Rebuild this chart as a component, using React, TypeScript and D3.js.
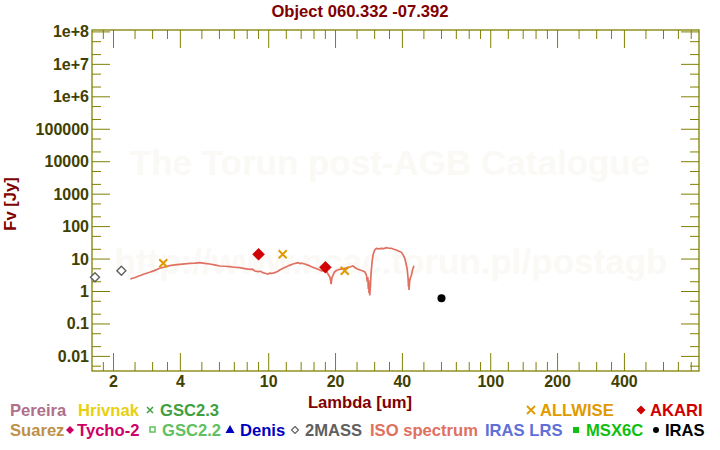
import React from "react";
import * as d3 from "d3";

const TITLE = "Object 060.332 -07.392";

// ISO spectrum (wavelength um, flux Jy)
const isoWave = [2.38, 2.5, 2.62, 2.75, 2.91, 3.05, 3.23, 3.4, 3.58, 3.78, 3.97, 4.2, 4.41, 4.65, 4.89, 5.15, 5.42, 5.7, 6.02, 6.3, 6.67, 7.0, 7.4, 7.8, 8.21, 8.45, 8.65, 9.0, 9.2, 9.42, 9.7, 9.93, 10.1, 10.3, 10.64, 11.0, 11.21, 11.6, 12.02, 12.4, 12.87, 13.2, 13.55, 13.8, 14.0, 14.53, 15.0, 15.3, 15.57, 16.1, 16.68, 17.0, 17.3, 17.87, 18.3, 18.6, 18.83, 19.0, 19.1, 19.25, 19.4, 19.83, 20.3, 20.89, 21.4, 21.99, 23.0, 23.98, 24.6, 25.24, 26.0, 26.6, 27.1, 27.55, 27.8, 27.95, 28.1, 28.2, 28.3, 28.4, 28.51, 28.7, 28.9, 29.2, 29.5, 30.02, 30.55, 31.3, 32.2, 33.0, 33.9, 34.8, 35.71, 36.6, 37.6, 38.6, 39.6, 40.3, 41.0, 41.5, 41.98, 42.3, 42.5, 42.6, 42.7, 42.86, 43.1, 43.4, 43.95, 44.5, 45.1];
const isoFlux = [2.43, 2.7, 3.07, 3.45, 3.91, 4.4, 5.19, 5.7, 6.24, 6.6, 6.89, 7.15, 7.4, 7.5, 7.72, 7.4, 7.04, 6.6, 6.11, 6.0, 5.81, 5.6, 5.41, 5.1, 4.83, 4.9, 4.28, 4.1, 4.2, 3.8, 3.6, 3.46, 3.7, 3.6, 3.8, 4.2, 4.6, 5.2, 5.81, 6.4, 7.04, 7.4, 7.72, 7.3, 7.5, 7.04, 6.5, 6.2, 5.81, 5.3, 4.83, 4.6, 4.3, 4.5, 4.0, 3.2, 2.86, 2.2, 1.7, 2.6, 3.0, 4.08, 4.5, 4.83, 5.0, 5.19, 5.6, 6.11, 5.3, 4.83, 4.5, 4.28, 4.0, 3.23, 2.0, 2.8, 1.2, 2.2, 0.9, 1.8, 0.75, 1.4, 3.5, 8.0, 13.3, 19.0, 21.4, 20.5, 21.4, 21.0, 22.4, 21.5, 21.4, 20.0, 19.0, 17.5, 16.1, 13.5, 10.5, 7.5, 5.19, 3.2, 2.2, 1.4, 2.4, 1.11, 2.0, 2.55, 3.23, 4.8, 6.24];

// Photometry
const twomassWave = [1.65, 2.17];
const twomassFlux = [2.74, 4.38];
const allwiseWave = [3.35, 11.56, 22.0];
const allwiseFlux = [7.4, 14.0, 4.38];
const akariWave = [9.0, 18.0];
const akariFlux = [14.0, 5.57];
const irasWave = [60];
const irasFlux = [0.62];

// Axis ticks
const xMajor = [2, 4, 10, 20, 40, 100, 200, 400];
const xMinor = [1.8, 2.5, 3, 3.5, 5, 6, 7, 8, 9, 12, 14, 16, 18, 25, 30, 35, 50, 60, 70, 80, 90, 120, 140, 160, 180, 250, 300, 350, 500, 600, 700, 800];
const yMajor = [1e8, 1e7, 1e6, 1e5, 1e4, 1e3, 100, 10, 1, 0.1, 0.01];
const yLabels = ["1e+8", "1e+7", "1e+6", "100000", "10000", "1000", "100", "10", "1", "0.1", "0.01"];
const yMinor = [5e7, 2e7, 5e6, 2e6, 5e5, 2e5, 5e4, 2e4, 5e3, 2e3, 500, 200, 50, 20, 5, 2, 0.5, 0.2, 0.05, 0.02, 0.005];

const FONT = "'Liberation Sans', Arial, Helvetica, sans-serif";
const AXIS = "#808000";
const TICKTXT = "#404000";
const DARKRED = "#800000";
const WM = "#fbf9f5";

export default function App() {
  const L = 92, R = 699, T = 30, B = 371;
  const x = d3.scaleLog().domain([1.6, 867]).range([L, R]);
  const y = d3.scaleLog().domain([0.00355, 1.145e8]).range([B, T]);

  const iso = isoWave.map((w, i) => [w, isoFlux[i]] as [number, number]);
  const line = d3.line<[number, number]>().x(d => x(d[0])).y(d => y(d[1]));

  const diamond = (cx: number, cy: number, r: number) =>
    `M${cx},${cy - r}L${cx + r},${cy}L${cx},${cy + r}L${cx - r},${cy}Z`;
  const cross = (cx: number, cy: number, r: number) =>
    `M${cx - r},${cy - r}L${cx + r},${cy + r}M${cx - r},${cy + r}L${cx + r},${cy - r}`;

  const LF = 16.6;
  const legendText = (t: string, lx: number, ly: number, c: string) => (
    <text x={lx} y={ly} fill={c} fontSize={LF} fontWeight="bold" fontFamily={FONT}>{t}</text>
  );

  const r1 = 416, r2 = 436;

  return (
    <svg width={720} height={450} style={{ position: "absolute", left: 0, top: 0, background: "#fff" }}>
      <rect x={0} y={0} width={720} height={450} fill="#fff" />
      {/* watermark */}
      <text x={390} y={175} textAnchor="middle" fill={WM} fontSize={35} fontWeight="bold" fontFamily={FONT}>The Torun post-AGB Catalogue</text>
      <text x={391} y={274} textAnchor="middle" fill={WM} fontSize={35} fontWeight="bold" fontFamily={FONT}>http://www.ncac.torun.pl/postagb</text>

      {/* title */}
      <text x={360} y={17} textAnchor="middle" fill={DARKRED} fontSize={16.6} fontWeight="bold" fontFamily={FONT}>{TITLE}</text>

      {/* frame */}
      <rect x={L} y={T} width={R - L} height={B - T} fill="none" stroke={AXIS} strokeWidth={1.3} />

      {/* x ticks */}
      {xMajor.map(v => (
        <g key={"xM" + v}>
          <line x1={x(v)} x2={x(v)} y1={B} y2={B - 18} stroke={AXIS} strokeWidth={1} />
          <line x1={x(v)} x2={x(v)} y1={T} y2={T + 18} stroke={AXIS} strokeWidth={1} />
          <text x={x(v)} y={387} textAnchor="middle" fill={TICKTXT} fontSize={16} fontWeight="bold" fontFamily={FONT}>{v}</text>
        </g>
      ))}
      {xMinor.map(v => (
        <g key={"xm" + v}>
          <line x1={x(v)} x2={x(v)} y1={B} y2={B - 9} stroke={AXIS} strokeWidth={1} />
          <line x1={x(v)} x2={x(v)} y1={T} y2={T + 9} stroke={AXIS} strokeWidth={1} />
        </g>
      ))}
      {/* y ticks */}
      {yMajor.map((v, i) => (
        <g key={"yM" + v}>
          <line x1={L} x2={L + 18} y1={y(v)} y2={y(v)} stroke={AXIS} strokeWidth={1} />
          <line x1={R} x2={R - 18} y1={y(v)} y2={y(v)} stroke={AXIS} strokeWidth={1} />
          <text x={89} y={y(v) + 5.5} textAnchor="end" fill={TICKTXT} fontSize={16} fontWeight="bold" fontFamily={FONT}>{yLabels[i]}</text>
        </g>
      ))}
      {yMinor.map(v => (
        <g key={"ym" + v}>
          <line x1={L} x2={L + 9} y1={y(v)} y2={y(v)} stroke={AXIS} strokeWidth={1} />
          <line x1={R} x2={R - 9} y1={y(v)} y2={y(v)} stroke={AXIS} strokeWidth={1} />
        </g>
      ))}

      {/* axis titles */}
      <text x={360} y={408} textAnchor="middle" fill={DARKRED} fontSize={16.6} fontWeight="bold" fontFamily={FONT}>Lambda [um]</text>
      <text transform={`translate(16,204) rotate(-90)`} textAnchor="middle" fill={DARKRED} fontSize={16.6} fontWeight="bold" fontFamily={FONT}>Fv [Jy]</text>

      {/* ISO spectrum */}
      <path d={line(iso) || ""} fill="none" stroke="#e07060" strokeWidth={1.7} />

      {/* 2MASS */}
      {twomassWave.map((w, i) => (
        <path key={"tm" + i} d={diamond(x(w), y(twomassFlux[i]), 4.5)} fill="#fff" stroke="#606060" strokeWidth={1.4} />
      ))}
      {/* ALLWISE */}
      {allwiseWave.map((w, i) => (
        <path key={"aw" + i} d={cross(x(w), y(allwiseFlux[i]), 4)} fill="none" stroke="#e09a00" strokeWidth={2} />
      ))}
      {/* AKARI */}
      {akariWave.map((w, i) => (
        <path key={"ak" + i} d={diamond(x(w), y(akariFlux[i]), 6)} fill="#d00000" stroke="#d00000" strokeWidth={0.5} />
      ))}
      {/* IRAS */}
      {irasWave.map((w, i) => (
        <circle key={"ir" + i} cx={x(w)} cy={y(irasFlux[i])} r={4} fill="#000" />
      ))}

      {/* legend row 1 */}
      {legendText("Pereira", 10, r1, "#b0708a")}
      {legendText("Hrivnak", 78, r1, "#e8d010")}
      <path d={cross(150, r1 - 6, 3)} stroke="#40a040" strokeWidth={1.5} fill="none" />
      {legendText("GSC2.3", 160, r1, "#40a040")}
      <path d={cross(531, r1 - 6, 4)} stroke="#e09a00" strokeWidth={1.8} fill="none" />
      {legendText("ALLWISE", 540, r1, "#e09a00")}
      <path d={diamond(641, r1 - 6, 4.5)} fill="#d00000" />
      {legendText("AKARI", 650, r1, "#d00000")}

      {/* legend row 2 */}
      {legendText("Suarez", 10, r2, "#c09048")}
      <path d={diamond(70, r2 - 6, 4)} fill="#cc0066" />
      {legendText("Tycho-2", 77, r2, "#cc0066")}
      <rect x={150} y={r2 - 9} width={5} height={5} fill="none" stroke="#60c060" strokeWidth={1.5} />
      {legendText("GSC2.2", 162, r2, "#60c060")}
      <path d={`M230,${r2 - 11}L234.5,${r2 - 3}L225.5,${r2 - 3}Z`} fill="#0000c0" />
      {legendText("Denis", 240, r2, "#0000c0")}
      <path d={diamond(295, r2 - 6, 3.5)} fill="#fff" stroke="#606060" strokeWidth={1.2} />
      {legendText("2MASS", 305, r2, "#606060")}
      {legendText("ISO spectrum", 370, r2, "#e07060")}
      {legendText("IRAS LRS", 485, r2, "#6070d8")}
      <rect x={573} y={r2 - 9} width={6} height={6} fill="#10c010" />
      {legendText("MSX6C", 586, r2, "#10c010")}
      <circle cx={656} cy={r2 - 6} r={3} fill="#000" />
      {legendText("IRAS", 665, r2, "#000")}
    </svg>
  );
}
